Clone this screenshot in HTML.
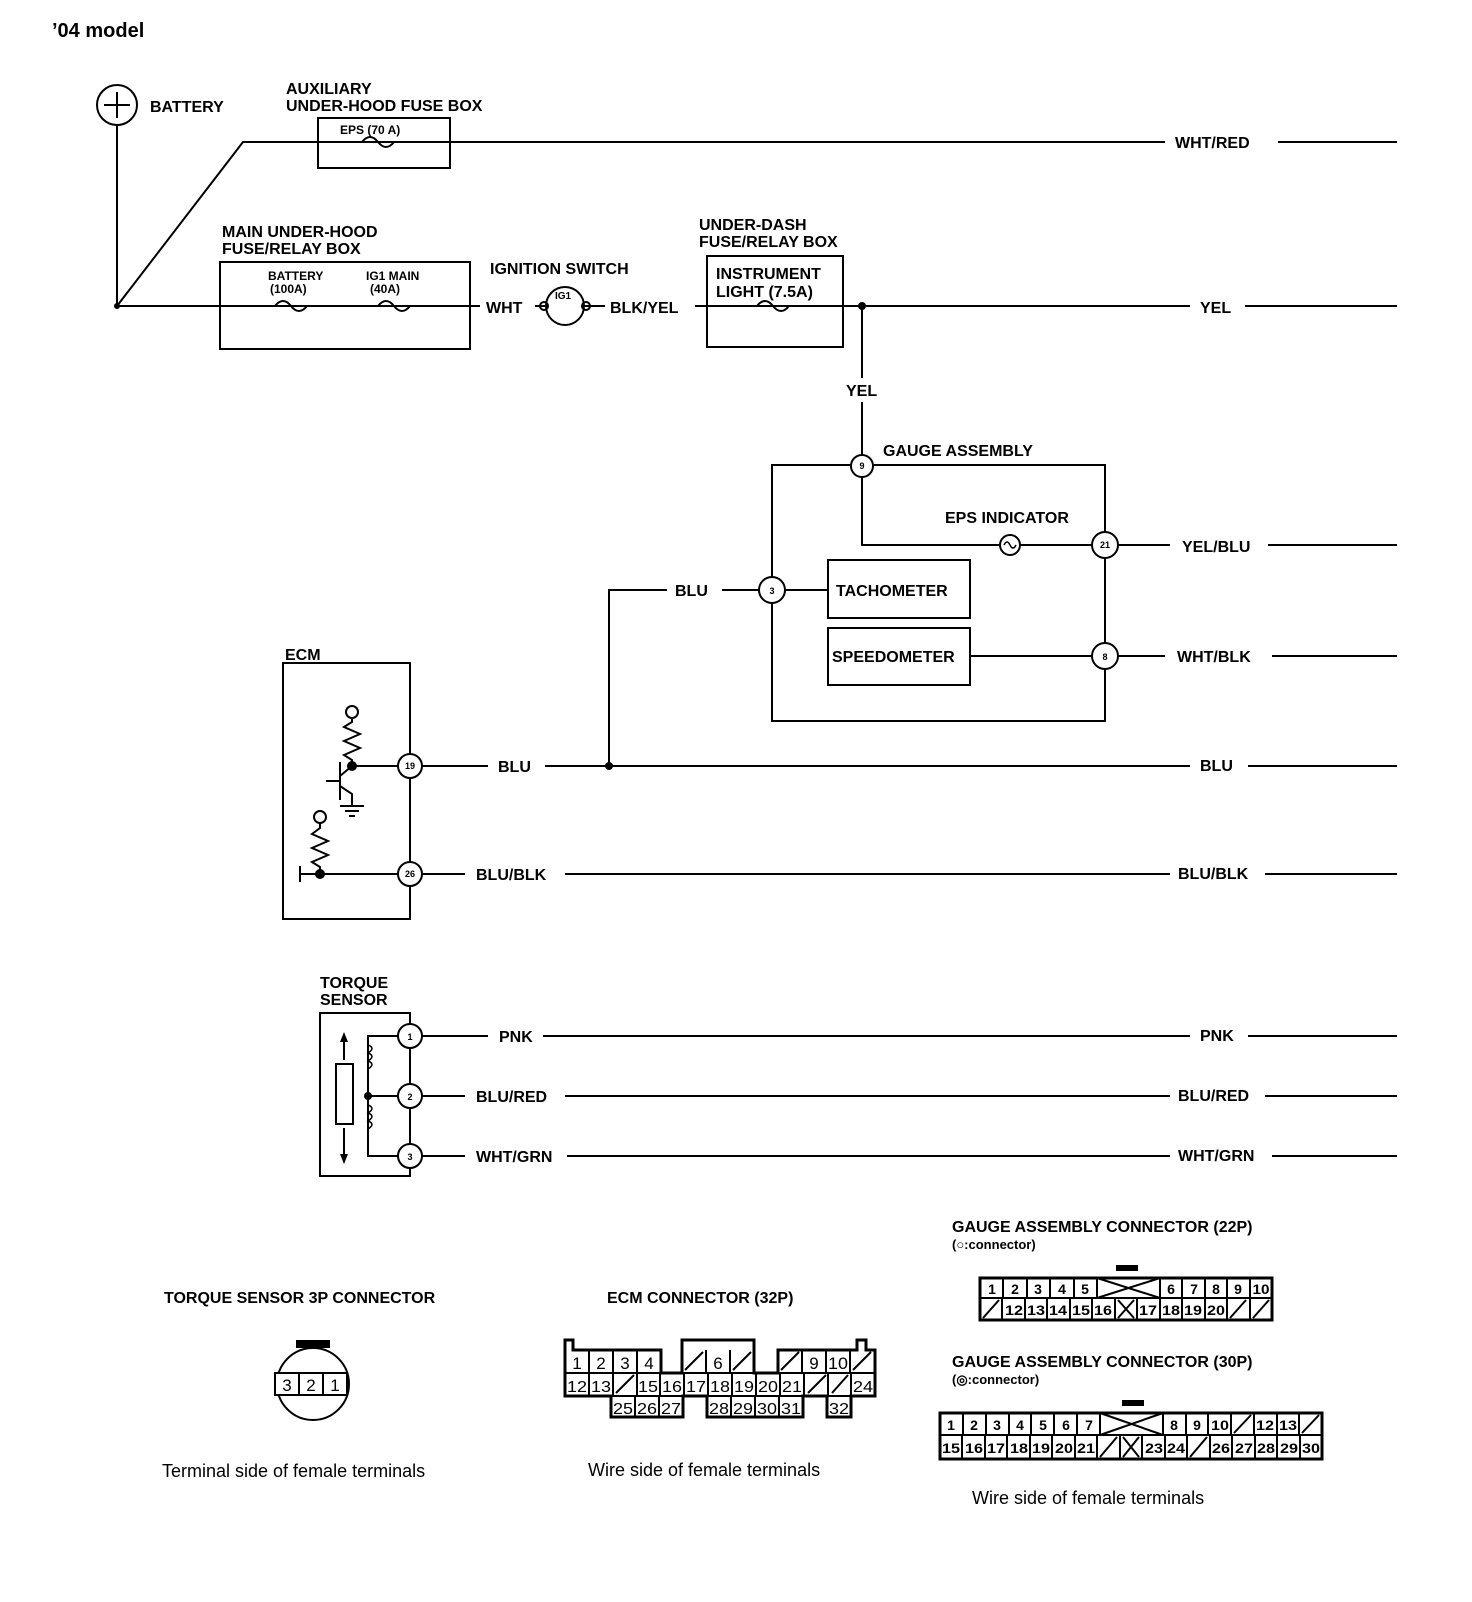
<!DOCTYPE html>
<html><head><meta charset="utf-8"><style>
html,body{margin:0;padding:0;background:#fff;}
svg{display:block;font-family:"Liberation Sans",Arial,sans-serif;}
.b{font-weight:bold;font-size:16px;}
.s{font-weight:bold;font-size:12px;}
.c text{text-anchor:middle;}
</style></head><body>
<svg width="1472" height="1602" viewBox="0 0 1472 1602" xmlns="http://www.w3.org/2000/svg">
<g fill="none" stroke="#000" stroke-width="2">
<circle cx="117" cy="105" r="20"/>
<line x1="104" y1="105" x2="130" y2="105"/><line x1="117" y1="92" x2="117" y2="118"/>
<line x1="117" y1="125" x2="117" y2="306"/>
<polyline points="117,306 243,142 1165,142"/>
<rect x="318" y="118" width="132" height="50"/>
<line x1="117" y1="306" x2="220" y2="306"/>
<rect x="220" y="262" width="250" height="87"/>
<line x1="220" y1="306" x2="480" y2="306"/>
<line x1="535" y1="306" x2="545" y2="306"/>
<circle cx="565" cy="306" r="19"/>
<line x1="585" y1="306" x2="605" y2="306"/>
<line x1="695" y1="306" x2="1190" y2="306"/>
<rect x="707" y="256" width="136" height="91"/>
<line x1="862" y1="306" x2="862" y2="378"/>
<line x1="862" y1="402" x2="862" y2="455"/>
<rect x="772" y="465" width="333" height="256"/>
<circle cx="862" cy="466" r="11" fill="#fff"/>
<polyline points="862,477 862,545 1000,545"/>
<circle cx="1010" cy="545" r="10"/>
<path d="M1004,545 q3,-6 6,0 q3,6 6,0" stroke-width="1.5"/>
<line x1="1020" y1="545" x2="1092" y2="545"/>
<circle cx="1105" cy="545" r="13" fill="#fff"/>
<line x1="1118" y1="545" x2="1170" y2="545"/>
<circle cx="772" cy="590" r="13" fill="#fff"/>
<line x1="722" y1="590" x2="759" y2="590"/>
<line x1="785" y1="590" x2="828" y2="590"/>
<rect x="828" y="560" width="142" height="58"/>
<rect x="828" y="628" width="142" height="57"/>
<line x1="970" y1="656" x2="1092" y2="656"/>
<circle cx="1105" cy="656" r="13" fill="#fff"/>
<line x1="1118" y1="656" x2="1165" y2="656"/>
<polyline points="667,590 609,590 609,766"/>
<rect x="283" y="663" width="127" height="256"/>
<circle cx="410" cy="766" r="12" fill="#fff"/>
<circle cx="410" cy="874" r="12" fill="#fff"/>
<line x1="352" y1="766" x2="398" y2="766"/>
<line x1="422" y1="766" x2="488" y2="766"/>
<line x1="545" y1="766" x2="1190" y2="766"/>
<line x1="300" y1="874" x2="398" y2="874"/>
<line x1="422" y1="874" x2="465" y2="874"/>
<line x1="565" y1="874" x2="1170" y2="874"/>
<circle cx="352" cy="712" r="6"/>
<polyline points="352,718 352,722 344,727 360,734 344,741 360,748 344,755 352,760 352,766"/>
<line x1="340" y1="762" x2="340" y2="800"/>
<polyline points="352,766 340,776"/><polyline points="340,786 352,794 352,806"/>
<line x1="340" y1="806" x2="364" y2="806"/><line x1="345" y1="811" x2="359" y2="811"/><line x1="349" y1="816" x2="355" y2="816"/>
<line x1="326" y1="781" x2="340" y2="781"/>
<circle cx="320" cy="817" r="6"/>
<polyline points="320,823 320,828 312,834 328,841 312,848 328,855 312,862 320,867 320,874"/>
<line x1="300" y1="866" x2="300" y2="882"/>
<rect x="320" y="1013" width="90" height="163"/>
<circle cx="410" cy="1036" r="12" fill="#fff"/>
<circle cx="410" cy="1096" r="12" fill="#fff"/>
<circle cx="410" cy="1156" r="12" fill="#fff"/>
<polyline points="398,1036 368,1036 368,1156 398,1156"/>
<line x1="368" y1="1096" x2="398" y2="1096"/>
<path d="M368,1045 q8,3 0,8 q8,3 0,8 q8,3 0,8 M368,1105 q8,3 0,8 q8,3 0,8 q8,3 0,8" stroke-width="1.5"/>
<rect x="336" y="1064" width="17" height="60"/>
<line x1="344" y1="1040" x2="344" y2="1060"/><line x1="344" y1="1128" x2="344" y2="1160"/>
<line x1="422" y1="1036" x2="488" y2="1036"/><line x1="543" y1="1036" x2="1190" y2="1036"/>
<line x1="422" y1="1096" x2="465" y2="1096"/><line x1="565" y1="1096" x2="1170" y2="1096"/>
<line x1="422" y1="1156" x2="465" y2="1156"/><line x1="567" y1="1156" x2="1170" y2="1156"/>
<line x1="1278" y1="142" x2="1397" y2="142"/>
<line x1="1245" y1="306" x2="1397" y2="306"/>
<line x1="1268" y1="545" x2="1397" y2="545"/>
<line x1="1272" y1="656" x2="1397" y2="656"/>
<line x1="1248" y1="766" x2="1397" y2="766"/>
<line x1="1265" y1="874" x2="1397" y2="874"/>
<line x1="1248" y1="1036" x2="1397" y2="1036"/>
<line x1="1265" y1="1096" x2="1397" y2="1096"/>
<line x1="1272" y1="1156" x2="1397" y2="1156"/>
<path d="M362,142 q8,-10 16,0 q8,10 16,0"/>
<path d="M275,306 q8,-10 16,0 q8,10 16,0"/>
<path d="M378,306 q8,-10 16,0 q8,10 16,0"/>
<path d="M757,306 q8,-10 16,0 q8,10 16,0"/>
<circle cx="544" cy="306" r="4"/><circle cx="586" cy="306" r="4"/>
<circle cx="313" cy="1384" r="36"/>
<rect x="275" y="1373" width="72" height="22" fill="#fff"/>
<line x1="299" y1="1373" x2="299" y2="1395"/><line x1="323" y1="1373" x2="323" y2="1395"/>
<path d="M565,1350 V1340 H573 V1350 H661 V1373 H682 V1340 H754 V1373 H778 V1350 H857 V1340 H866 V1350 H875 V1396 H851 V1417 H827 V1396 H803 V1417 H707 V1396 H683 V1417 H611 V1396 H565 Z" stroke-width="3"/>
<line x1="565" y1="1373" x2="875" y2="1373"/>
<line x1="611" y1="1396" x2="851" y2="1396"/>
<path d="M589,1350V1373M613,1350V1373M637,1350V1373M706,1350V1373M730,1350V1373M802,1350V1373M826,1350V1373M850,1350V1373"/>
<path d="M589,1373V1396M613,1373V1396M637,1373V1396M660,1373V1396M684,1373V1396M708,1373V1396M732,1373V1396M756,1373V1396M780,1373V1396M804,1373V1396M828,1373V1396M851,1373V1396"/>
<path d="M635,1396V1417M659,1396V1417M731,1396V1417M755,1396V1417M779,1396V1417"/>
<path d="M685,1370L703,1352M733,1370L751,1352M781,1370L799,1352M853,1370L871,1352M616,1393L634,1375M808,1393L826,1375M832,1393L848,1375"/>
<rect x="980" y="1278" width="292" height="42" stroke-width="3"/>
<line x1="980" y1="1298" x2="1272" y2="1298"/>
<path d="M1097,1278 L1160,1298 M1160,1278 L1097,1298"/>
<path d="M1003,1278V1298M1027,1278V1298M1050,1278V1298M1074,1278V1298M1097,1278V1298M1160,1278V1298M1182,1278V1298M1205,1278V1298M1227,1278V1298M1250,1278V1298"/>
<path d="M1002,1298V1320M1025,1298V1320M1047,1298V1320M1070,1298V1320M1092,1298V1320M1115,1298V1320M1137,1298V1320M1160,1298V1320M1182,1298V1320M1205,1298V1320M1227,1298V1320M1250,1298V1320"/>
<path d="M983,1318L999,1300M1118,1318L1134,1300M1118,1300L1134,1318M1230,1318L1246,1300M1253,1318L1269,1300"/>
<rect x="940" y="1413" width="382" height="46" stroke-width="3"/>
<line x1="940" y1="1435" x2="1322" y2="1435"/>
<path d="M1100,1413 L1163,1435 M1163,1413 L1100,1435"/>
<path d="M963,1413V1435M986,1413V1435M1009,1413V1435M1031,1413V1435M1054,1413V1435M1077,1413V1435M1100,1413V1435M1163,1413V1435M1186,1413V1435M1208,1413V1435M1231,1413V1435M1254,1413V1435M1277,1413V1435M1299,1413V1435"/>
<path d="M962,1435V1459M985,1435V1459M1007,1435V1459M1030,1435V1459M1052,1435V1459M1075,1435V1459M1097,1435V1459M1120,1435V1459M1142,1435V1459M1165,1435V1459M1187,1435V1459M1210,1435V1459M1232,1435V1459M1255,1435V1459M1277,1435V1459M1300,1435V1459"/>
<path d="M1234,1433L1251,1415M1302,1433L1319,1415M1100,1457L1117,1437M1123,1457L1139,1437M1123,1437L1139,1457M1190,1457L1207,1437"/>
</g>
<g fill="#000">
<rect x="296" y="1340" width="34" height="8"/>
<rect x="1116" y="1265" width="22" height="6"/>
<rect x="1122" y="1400" width="22" height="6"/>
<circle cx="117" cy="306" r="3"/><circle cx="862" cy="306" r="4"/><circle cx="609" cy="766" r="4"/>
<circle cx="352" cy="766" r="5"/><circle cx="320" cy="874" r="5"/><circle cx="368" cy="1096" r="4"/>
<polygon points="344,1032 340,1042 348,1042"/><polygon points="344,1164 340,1154 348,1154"/>
</g>
<g class="b">
<text x="52" y="37" font-size="20">’04 model</text>
<text x="150" y="112">BATTERY</text>
<text x="286" y="94">AUXILIARY</text>
<text x="286" y="111">UNDER-HOOD FUSE BOX</text>
<text x="340" y="134" class="s">EPS (70 A)</text>
<text x="1175" y="148">WHT/RED</text>
<text x="222" y="237">MAIN UNDER-HOOD</text>
<text x="222" y="254">FUSE/RELAY BOX</text>
<text x="268" y="280" class="s">BATTERY</text><text x="270" y="293" class="s">(100A)</text>
<text x="366" y="280" class="s">IG1 MAIN</text><text x="370" y="293" class="s">(40A)</text>
<text x="490" y="274">IGNITION SWITCH</text>
<text x="486" y="313">WHT</text>
<text x="555" y="299" font-size="10">IG1</text>
<text x="610" y="313">BLK/YEL</text>
<text x="699" y="230">UNDER-DASH</text>
<text x="699" y="247">FUSE/RELAY BOX</text>
<text x="716" y="279">INSTRUMENT</text>
<text x="716" y="297">LIGHT (7.5A)</text>
<text x="1200" y="313">YEL</text>
<text x="846" y="396">YEL</text>
<text x="883" y="456">GAUGE ASSEMBLY</text>
<text x="945" y="523">EPS INDICATOR</text>
<text x="1182" y="552">YEL/BLU</text>
<text x="675" y="596">BLU</text>
<text x="836" y="596">TACHOMETER</text>
<text x="832" y="662">SPEEDOMETER</text>
<text x="1177" y="662">WHT/BLK</text>
<text x="285" y="660">ECM</text>
<text x="498" y="772">BLU</text>
<text x="1200" y="771">BLU</text>
<text x="476" y="880">BLU/BLK</text>
<text x="1178" y="879">BLU/BLK</text>
<text x="320" y="988">TORQUE</text>
<text x="320" y="1005">SENSOR</text>
<text x="499" y="1042">PNK</text><text x="1200" y="1041">PNK</text>
<text x="476" y="1102">BLU/RED</text><text x="1178" y="1101">BLU/RED</text>
<text x="476" y="1162">WHT/GRN</text><text x="1178" y="1161">WHT/GRN</text>
<text x="164" y="1303">TORQUE SENSOR 3P CONNECTOR</text>
<text x="607" y="1303">ECM CONNECTOR (32P)</text>
<text x="952" y="1232">GAUGE ASSEMBLY CONNECTOR (22P)</text>
<text x="952" y="1249" font-size="13">(○:connector)</text>
<text x="952" y="1367">GAUGE ASSEMBLY CONNECTOR (30P)</text>
<text x="952" y="1384" font-size="13">(◎:connector)</text>
</g>
<g font-size="9" font-weight="bold" text-anchor="middle">
<text x="862" y="469">9</text><text x="1105" y="548">21</text><text x="772" y="594">3</text><text x="1105" y="660">8</text>
<text x="410" y="769">19</text><text x="410" y="877">26</text>
<text x="410" y="1040">1</text><text x="410" y="1100">2</text><text x="410" y="1160">3</text>
</g>
<g class="c" font-size="17">
<text x="287" y="1391">3</text><text x="311" y="1391">2</text><text x="335" y="1391">1</text>
<text x="577" y="1369">1</text><text x="601" y="1369">2</text><text x="625" y="1369">3</text><text x="649" y="1369">4</text>
<text x="718" y="1369">6</text><text x="814" y="1369">9</text><text x="838" y="1369" textLength="20" lengthAdjust="spacingAndGlyphs">10</text>
</g>
<g class="c" font-size="16">
<text x="577" y="1392" textLength="20" lengthAdjust="spacingAndGlyphs">12</text><text x="601" y="1392" textLength="20" lengthAdjust="spacingAndGlyphs">13</text>
<text x="648" y="1392" textLength="20" lengthAdjust="spacingAndGlyphs">15</text><text x="672" y="1392" textLength="20" lengthAdjust="spacingAndGlyphs">16</text>
<text x="696" y="1392" textLength="20" lengthAdjust="spacingAndGlyphs">17</text><text x="720" y="1392" textLength="20" lengthAdjust="spacingAndGlyphs">18</text>
<text x="744" y="1392" textLength="20" lengthAdjust="spacingAndGlyphs">19</text><text x="768" y="1392" textLength="20" lengthAdjust="spacingAndGlyphs">20</text>
<text x="792" y="1392" textLength="20" lengthAdjust="spacingAndGlyphs">21</text><text x="863" y="1392" textLength="20" lengthAdjust="spacingAndGlyphs">24</text>
<text x="623" y="1414" textLength="20" lengthAdjust="spacingAndGlyphs">25</text><text x="647" y="1414" textLength="20" lengthAdjust="spacingAndGlyphs">26</text><text x="671" y="1414" textLength="20" lengthAdjust="spacingAndGlyphs">27</text>
<text x="719" y="1414" textLength="20" lengthAdjust="spacingAndGlyphs">28</text><text x="743" y="1414" textLength="20" lengthAdjust="spacingAndGlyphs">29</text><text x="767" y="1414" textLength="20" lengthAdjust="spacingAndGlyphs">30</text><text x="791" y="1414" textLength="20" lengthAdjust="spacingAndGlyphs">31</text>
<text x="839" y="1414" textLength="20" lengthAdjust="spacingAndGlyphs">32</text>
</g>
<g class="c" font-size="14" font-weight="bold">
<text x="992" y="1294">1</text><text x="1015" y="1294">2</text><text x="1038" y="1294">3</text><text x="1062" y="1294">4</text><text x="1085" y="1294">5</text>
<text x="1171" y="1294">6</text><text x="1194" y="1294">7</text><text x="1216" y="1294">8</text><text x="1238" y="1294">9</text><text x="1261" y="1294" textLength="17" lengthAdjust="spacingAndGlyphs">10</text>
<text x="1014" y="1315" textLength="18" lengthAdjust="spacingAndGlyphs">12</text><text x="1036" y="1315" textLength="18" lengthAdjust="spacingAndGlyphs">13</text><text x="1058" y="1315" textLength="18" lengthAdjust="spacingAndGlyphs">14</text><text x="1081" y="1315" textLength="18" lengthAdjust="spacingAndGlyphs">15</text><text x="1103" y="1315" textLength="18" lengthAdjust="spacingAndGlyphs">16</text>
<text x="1148" y="1315" textLength="18" lengthAdjust="spacingAndGlyphs">17</text><text x="1171" y="1315" textLength="18" lengthAdjust="spacingAndGlyphs">18</text><text x="1193" y="1315" textLength="18" lengthAdjust="spacingAndGlyphs">19</text><text x="1216" y="1315" textLength="18" lengthAdjust="spacingAndGlyphs">20</text>
<text x="951" y="1430">1</text><text x="974" y="1430">2</text><text x="997" y="1430">3</text><text x="1020" y="1430">4</text><text x="1043" y="1430">5</text><text x="1066" y="1430">6</text><text x="1089" y="1430">7</text>
<text x="1174" y="1430">8</text><text x="1197" y="1430">9</text><text x="1220" y="1430" textLength="18" lengthAdjust="spacingAndGlyphs">10</text><text x="1265" y="1430" textLength="18" lengthAdjust="spacingAndGlyphs">12</text><text x="1288" y="1430" textLength="18" lengthAdjust="spacingAndGlyphs">13</text>
<text x="951" y="1453" textLength="18" lengthAdjust="spacingAndGlyphs">15</text><text x="974" y="1453" textLength="18" lengthAdjust="spacingAndGlyphs">16</text><text x="996" y="1453" textLength="18" lengthAdjust="spacingAndGlyphs">17</text><text x="1019" y="1453" textLength="18" lengthAdjust="spacingAndGlyphs">18</text><text x="1041" y="1453" textLength="18" lengthAdjust="spacingAndGlyphs">19</text><text x="1064" y="1453" textLength="18" lengthAdjust="spacingAndGlyphs">20</text><text x="1086" y="1453" textLength="18" lengthAdjust="spacingAndGlyphs">21</text>
<text x="1154" y="1453" textLength="18" lengthAdjust="spacingAndGlyphs">23</text><text x="1176" y="1453" textLength="18" lengthAdjust="spacingAndGlyphs">24</text>
<text x="1221" y="1453" textLength="18" lengthAdjust="spacingAndGlyphs">26</text><text x="1244" y="1453" textLength="18" lengthAdjust="spacingAndGlyphs">27</text><text x="1266" y="1453" textLength="18" lengthAdjust="spacingAndGlyphs">28</text><text x="1289" y="1453" textLength="18" lengthAdjust="spacingAndGlyphs">29</text><text x="1311" y="1453" textLength="18" lengthAdjust="spacingAndGlyphs">30</text>
</g>
<g font-size="18">
<text x="162" y="1477">Terminal side of female terminals</text>
<text x="588" y="1476">Wire side of female terminals</text>
<text x="972" y="1504">Wire side of female terminals</text>
</g>
</svg>
</body></html>
